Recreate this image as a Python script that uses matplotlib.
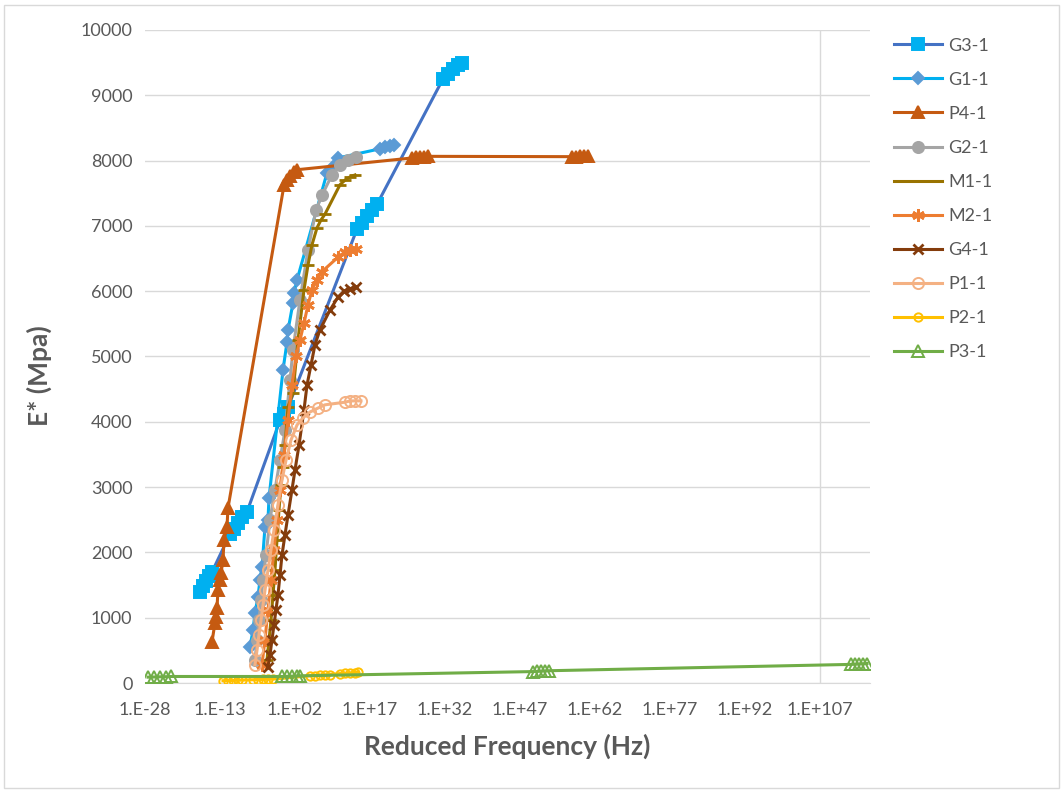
import numpy as np
import matplotlib
matplotlib.use("Agg")
import matplotlib.pyplot as plt
from matplotlib.ticker import FixedLocator, FuncFormatter
from matplotlib.patches import Rectangle

plt.rcParams['font.family'] = ['Lato', 'DejaVu Sans']

# Data: log10 of reduced frequency (Hz) and E* (MPa) per mix
g3_logf = [-17.0, -16.4, -15.8, -15.2, -14.6, -11.0, -10.2, -9.4, -8.6, -7.6,
           -1.0, -0.2, 0.6, 14.4, 15.4, 16.4, 17.4, 18.4, 31.6, 32.6, 33.6, 34.6, 35.4]
g3_e = [1400, 1480, 1560, 1640, 1700, 2280, 2360, 2450, 2540, 2620,
        4020, 4120, 4220, 6950, 7050, 7150, 7250, 7330, 9250, 9330, 9400, 9460, 9500]

g1_logf = [-7.0, -6.4, -6.0, -5.4, -5.0, -4.6, -4.0, -3.4, -3.2, -0.4, 0.4, 0.6,
           1.6, 1.8, 2.4, 8.4, 9.6, 10.6, 19.0, 20.0, 21.0, 21.8]
g1_e = [550, 810, 1070, 1320, 1580, 1780, 2390, 2500, 2830, 4790, 5220, 5400,
        5820, 5970, 6170, 7810, 7900, 8040, 8180, 8210, 8230, 8240]

p4_logf = [-14.6, -14.0, -13.8, -13.6, -13.4, -13.0, -12.8, -12.4, -12.2, -11.6, -11.4,
           -0.2, 0.4, 1.0, 1.8, 2.4, 25.4, 26.2, 27.0, 27.8, 28.6,
           57.4, 58.2, 59.0, 59.8, 60.6]
p4_e = [630, 920, 1010, 1150, 1420, 1580, 1680, 1880, 2190, 2390, 2680,
        7620, 7700, 7760, 7820, 7860, 8040, 8050, 8060, 8060, 8065,
        8060, 8060, 8065, 8065, 8065]

g2_logf = [-6.0, -5.6, -5.2, -4.8, -4.4, -3.8, -3.0, -2.0, -1.0, 0.0, 1.0, 1.6,
           3.0, 4.6, 6.2, 7.4, 9.4, 11.0, 12.6, 14.2]
g2_e = [350, 660, 960, 1270, 1580, 1960, 2500, 2960, 3410, 3870, 4640, 5100,
        5870, 6630, 7240, 7470, 7780, 7930, 8010, 8050]

m1_logf = [-3.6, -3.2, -2.8, -2.4, -2.0, -1.6, -1.2, -0.8, -0.4, 0.0, 0.6, 1.6,
           2.6, 3.8, 4.6, 5.4, 6.4, 7.2, 8.0, 11.0, 12.0, 13.0, 14.0]
m1_e = [350, 660, 960, 1350, 1730, 2190, 2650, 3030, 3310, 3640, 4230, 4440,
        5250, 6020, 6400, 6710, 6970, 7090, 7180, 7630, 7700, 7750, 7780]

m2_logf = [-4.6, -4.0, -3.4, -2.8, -2.2, -1.6, -1.0, -0.2, 0.6, 1.4, 2.2, 3.0,
           3.8, 4.6, 5.4, 6.4, 7.4, 10.6, 12.0, 13.0, 14.2]
m2_e = [280, 660, 1120, 1580, 2040, 2500, 2960, 3490, 4030, 4560, 5000, 5250,
        5510, 5790, 6020, 6170, 6300, 6520, 6600, 6630, 6650]

g4_logf = [-3.4, -3.0, -2.6, -2.2, -1.8, -1.4, -1.0, -0.6, 0.0, 0.6, 1.4, 2.0,
           2.8, 3.8, 4.4, 5.2, 6.0, 7.0, 9.0, 10.6, 11.8, 13.0, 14.2]
g4_e = [250, 430, 660, 890, 1120, 1350, 1650, 1960, 2270, 2570, 2960, 3260,
        3640, 4180, 4560, 4870, 5180, 5410, 5710, 5910, 6000, 6040, 6060]

p1_logf = [-6.0, -5.6, -5.2, -4.8, -4.4, -4.0, -3.4, -2.8, -2.2, -1.4, -0.6, 0.2,
           1.2, 2.4, 3.6, 5.0, 6.6, 8.0, 12.0, 13.0, 14.0, 15.2]
p1_e = [280, 500, 740, 960, 1190, 1420, 1730, 2040, 2340, 2730, 3110, 3410,
        3720, 3950, 4060, 4150, 4210, 4260, 4300, 4320, 4320, 4320]

p2_logf = [-12.4, -11.4, -10.4, -9.4, -8.6, -6.4, -5.4, -4.4, -3.4, -2.4,
           5.0, 6.0, 7.0, 8.0, 9.0, 11.0, 12.0, 13.0, 14.0, 14.6]
p2_e = [35, 38, 40, 42, 45, 50, 52, 55, 58, 60,
        110, 115, 120, 125, 130, 145, 150, 155, 160, 165]

p3_logf = [-27.4, -26.2, -25.0, -23.8, -22.8, -0.6, 0.4, 1.4, 2.4, 3.0,
           49.6, 50.4, 51.2, 52.0, 52.8, 113.2, 114.0, 114.8, 115.6, 116.4]
p3_e = [90, 92, 95, 97, 100, 100, 103, 106, 108, 110,
        175, 178, 182, 185, 188, 285, 288, 292, 295, 298]

x_tick_exp = [-28, -13, 2, 17, 32, 47, 62, 77, 92, 107]
y_ticks = [0, 1000, 2000, 3000, 4000, 5000, 6000, 7000, 8000, 9000, 10000]

# Series styles: (label, logf, E, line colour, marker, marker colour, filled, size)
series = [
    ('G3-1', g3_logf, g3_e, '#4472C4', 's', '#00B0F0', True, 8),
    ('G1-1', g1_logf, g1_e, '#00B0F0', 'D', '#5B9BD5', True, 6.5),
    ('P4-1', p4_logf, p4_e, '#C55A11', '^', '#C55A11', True, 8.5),
    ('G2-1', g2_logf, g2_e, '#A5A5A5', 'o', '#A5A5A5', True, 8),
    ('M1-1', m1_logf, m1_e, '#997300', '_', '#997300', True, 9),
    ('M2-1', m2_logf, m2_e, '#ED7D31', (6, 2, 0), '#ED7D31', True, 9),
    ('G4-1', g4_logf, g4_e, '#843C0C', 'x', '#843C0C', True, 7),
    ('P1-1', p1_logf, p1_e, '#F4B183', 'o', '#F4B183', False, 8),
    ('P2-1', p2_logf, p2_e, '#FFC000', 'o', '#FFC000', False, 6),
    ('P3-1', p3_logf, p3_e, '#70AD47', '^', '#70AD47', False, 8),
]

fig = plt.figure(figsize=(10.63, 7.93), dpi=100)
fig.patches.append(Rectangle((0.004, 0.006), 0.992, 0.988, transform=fig.transFigure,
                             fill=False, edgecolor='#D9D9D9', linewidth=1))
ax = fig.add_axes([0.1364, 0.1387, 0.6820, 0.8235])

for label, logf, e, lc, mk, mc, filled, ms in series:
    freq = 10.0 ** np.array(logf)
    ax.plot(freq, e, color=lc, linewidth=2.2, marker=mk, markersize=ms,
            markeredgecolor=mc, markerfacecolor=mc if filled else 'none',
            markeredgewidth=2 if mk in ('_', 'x', (6, 2, 0)) else 1.4,
            label=label, zorder=3)

ax.set_xscale('log')
ax.set_xlim(1e-28, 1e117)
ax.set_ylim(0, 10000)
ax.xaxis.set_major_locator(FixedLocator([10.0 ** k for k in x_tick_exp]))
ax.xaxis.set_minor_locator(FixedLocator([]))
ax.xaxis.set_major_formatter(FuncFormatter(lambda v, p: "1.E%+03d" % round(np.log10(v))))
ax.set_yticks(y_ticks)

ax.grid(axis='y', color='#D9D9D9', linewidth=1)
ax.axvline(1e107, color='#D9D9D9', linewidth=1, zorder=1)
ax.set_axisbelow(True)
for s in ['top', 'right', 'left']:
    ax.spines[s].set_visible(False)
ax.spines['bottom'].set_color('#D9D9D9')
ax.tick_params(axis='both', length=0, labelsize=13, labelcolor='#595959')
ax.tick_params(axis='y', pad=9)
ax.tick_params(axis='x', pad=14)

ax.set_xlabel('Reduced Frequency (Hz)', fontsize=19, fontweight='bold', color='#595959')
ax.set_ylabel('E* (Mpa)', fontsize=19, fontweight='bold', color='#595959')
ax.xaxis.set_label_coords(0.5, -0.077)
ax.yaxis.set_label_coords(-0.128, 0.47)

ax.legend(loc='upper left', bbox_to_anchor=(0.826, 0.973), bbox_transform=fig.transFigure,
          frameon=False, fontsize=13, labelspacing=1.0, handlelength=2.65,
          handletextpad=0.35, labelcolor='#595959')

plt.savefig('out.png', dpi=100)
